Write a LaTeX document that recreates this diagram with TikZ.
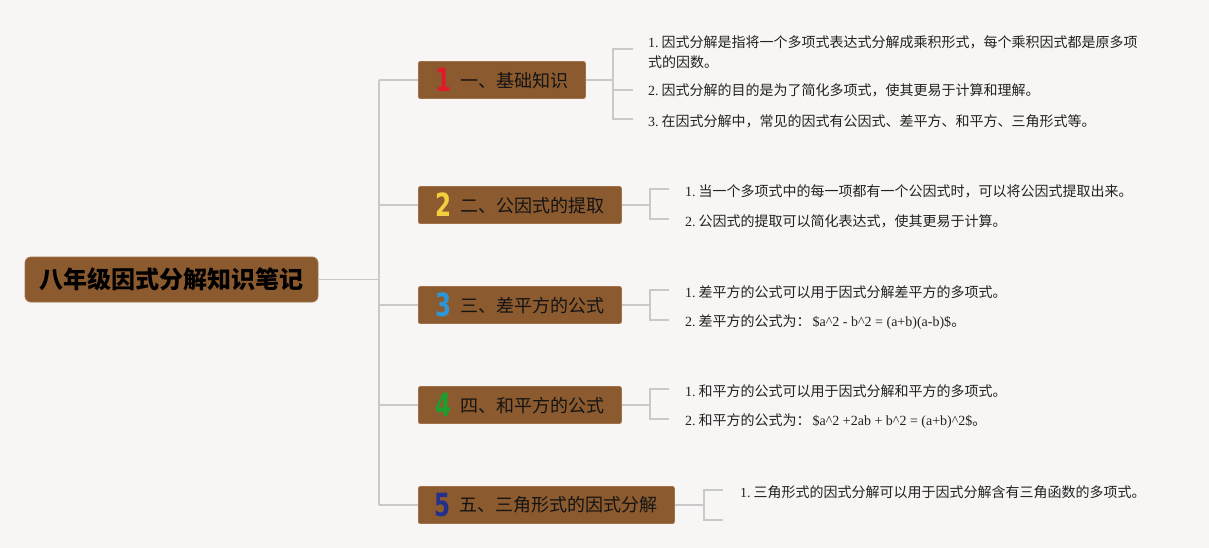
\documentclass[tikz,border=0pt]{standalone}
\usepackage{graphicx}
\usepackage{fontspec}
\setmainfont{Noto Sans CJK SC}
\newfontfamily\lat{Liberation Serif}
\newfontfamily\iconfont{DejaVu Sans}
\definecolor{bg}{HTML}{F7F6F4}
\definecolor{brn}{HTML}{8B5A2F}
\definecolor{brd}{HTML}{A0714A}
\definecolor{ln}{HTML}{C9C9C9}
\definecolor{cA}{HTML}{E01B2A}
\definecolor{cB}{HTML}{F2CF3C}
\definecolor{cC}{HTML}{2B97D9}
\definecolor{cD}{HTML}{1E9E2E}
\definecolor{cE}{HTML}{23308C}
\definecolor{txt}{HTML}{222222}
\newcommand\numicon[2]{\raisebox{-4.5pt}{\textcolor{#1}{\scalebox{0.72}[1]{\iconfont\bfseries\fontsize{32}{32}\selectfont #2}}}\hspace{9pt}}
\newcommand\nlab[1]{{\lat #1.}\hspace{3pt}}
\begin{document}
\begin{tikzpicture}[x=1pt,y=-1pt,
  rootbox/.style={fill=brn, draw=brd, line width=0.8pt, rounded corners=6pt, minimum width=293pt, minimum height=45pt, inner sep=0pt, font=\bfseries\fontsize{24}{24}\selectfont, text=black},
  catbox/.style={fill=brn, draw=brd, line width=0.8pt, rounded corners=2pt, minimum height=37pt, inner sep=0pt, anchor=west, font=\fontsize{18}{18}\selectfont, text=black!92},
  leaf/.style={anchor=west, inner sep=0pt, align=left, font=\fontsize{14}{20}\selectfont, text=txt},
  conn/.style={draw=ln, line width=1.5pt}]
\fill[bg] (0,0) rectangle (1209,548);
\useasboundingbox (0,0) rectangle (1209,548);

% root
\node[rootbox] (root) at (171.5,279.5) {八年级因式分解知识笔记};

% category boxes
\node[catbox, minimum width=167pt] (b1) at (418,80) {\numicon{cA}{1}一、基础知识};
\node[catbox, minimum width=203pt] (b2) at (418,205) {\numicon{cB}{2}二、公因式的提取};
\node[catbox, minimum width=203pt] (b3) at (418,305) {\numicon{cC}{3}三、差平方的公式};
\node[catbox, minimum width=203pt] (b4) at (418,405) {\numicon{cD}{4}四、和平方的公式};
\node[catbox, minimum width=256pt] (b5) at (418,505) {\numicon{cE}{5}五、三角形式的因式分解};

% trunk
\coordinate (t0) at (379,279.5);
\coordinate (t1) at (379,80);
\coordinate (t2) at (379,205);
\coordinate (t3) at (379,305);
\coordinate (t4) at (379,405);
\coordinate (t5) at (379,505);
\draw[conn] (root.east) -- (t0);
\draw[conn] (t1) -- (t5);
\foreach \i in {1,...,5} \draw[conn] (t\i) -- (b\i.west);

% leaves
\node[leaf] (l11) at (648,52) {\nlab{1}因式分解是指将一个多项式表达式分解成乘积形式，每个乘积因式都是原多项\\式的因数。};
\node[leaf] (l12) at (648,90) {\nlab{2}因式分解的目的是为了简化多项式，使其更易于计算和理解。};
\node[leaf] (l13) at (648,121) {\nlab{3}在因式分解中，常见的因式有公因式、差平方、和平方、三角形式等。};

\node[leaf] (l21) at (685,191) {\nlab{1}当一个多项式中的每一项都有一个公因式时，可以将公因式提取出来。};
\node[leaf] (l22) at (685,221) {\nlab{2}公因式的提取可以简化表达式，使其更易于计算。};

\node[leaf] (l31) at (685,292) {\nlab{1}差平方的公式可以用于因式分解差平方的多项式。};
\node[leaf] (l32) at (685,322) {\nlab{2}差平方的公式为：\hspace{2pt}{\lat \$a\textasciicircum 2 - b\textasciicircum 2 = (a+b)(a-b)\$}。};

\node[leaf] (l41) at (685,391) {\nlab{1}和平方的公式可以用于因式分解和平方的多项式。};
\node[leaf] (l42) at (685,421) {\nlab{2}和平方的公式为：\hspace{2pt}{\lat \$a\textasciicircum 2 +2ab + b\textasciicircum 2 = (a+b)\textasciicircum 2\$}。};

\node[leaf] (l51) at (740,492) {\nlab{1}三角形式的因式分解可以用于因式分解含有三角函数的多项式。};

% brackets branch 1
\coordinate (j1) at (613,80);
\coordinate (k11) at (613,49);  \coordinate (s11) at (633,49);
\coordinate (k12) at (613,90);  \coordinate (s12) at (633,90);
\coordinate (k13) at (613,119); \coordinate (s13) at (633,119);
\draw[conn] (b1.east) -- (j1);
\draw[conn] (s11) -- (k11) -- (k13) -- (s13);
\draw[conn] (k12) -- (s12);

% branch 2
\coordinate (j2) at (650,205);
\coordinate (k21) at (650,189); \coordinate (s21) at (669,189);
\coordinate (k22) at (650,219); \coordinate (s22) at (669,219);
\draw[conn] (b2.east) -- (j2);
\draw[conn] (s21) -- (k21) -- (k22) -- (s22);

% branch 3
\coordinate (j3) at (650,305);
\coordinate (k31) at (650,290); \coordinate (s31) at (669,290);
\coordinate (k32) at (650,320); \coordinate (s32) at (669,320);
\draw[conn] (b3.east) -- (j3);
\draw[conn] (s31) -- (k31) -- (k32) -- (s32);

% branch 4
\coordinate (j4) at (650,405);
\coordinate (k41) at (650,389); \coordinate (s41) at (669,389);
\coordinate (k42) at (650,419); \coordinate (s42) at (669,419);
\draw[conn] (b4.east) -- (j4);
\draw[conn] (s41) -- (k41) -- (k42) -- (s42);

% branch 5
\coordinate (j5) at (704,505);
\coordinate (k51) at (704,490); \coordinate (s51) at (723,490);
\coordinate (k52) at (704,520); \coordinate (s52) at (723,520);
\draw[conn] (b5.east) -- (j5);
\draw[conn] (s51) -- (k51) -- (k52) -- (s52);
\end{tikzpicture}
\end{document}
